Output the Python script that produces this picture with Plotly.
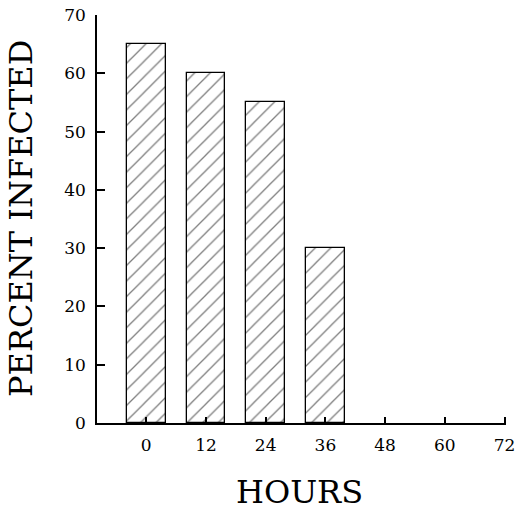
import plotly.graph_objects as go

hours = [0, 12, 24, 36, 48, 60, 72]
percent_infected = [65, 60, 55, 30, 0, 0, 0]
y_ticks = [0, 10, 20, 30, 40, 50, 60, 70]

FONT = "DejaVu Serif"

fig = go.Figure()
fig.add_trace(go.Bar(
    x=hours,
    y=percent_infected,
    width=7.8,
    marker=dict(
        color="white",
        line=dict(color="black", width=[1.3 if v > 0 else 0 for v in percent_infected]),
        pattern=dict(shape="/", size=11, solidity=0.12,
                     fgcolor="black", bgcolor="white", fillmode="overlay"),
    ),
    showlegend=False,
))

fig.update_layout(
    width=517, height=510,
    margin=dict(l=97, r=11, t=15, b=87, autoexpand=False),
    paper_bgcolor="white", plot_bgcolor="white",
    font=dict(family=FONT, color="black", size=17),
    bargap=0,
    annotations=[
        dict(text="PERCENT INFECTED", xref="paper", yref="paper", x=0, y=0.5,
             xanchor="center", yanchor="middle", xshift=-76, textangle=-90,
             showarrow=False, font=dict(family=FONT, size=32)),
        dict(text="HOURS", xref="paper", yref="paper", x=0.494, y=0,
             xanchor="center", yanchor="middle", yshift=-69,
             showarrow=False, font=dict(family=FONT, size=32)),
    ],
)
fig.update_xaxes(
    range=[-9.9, 72.3], automargin=False,
    tickmode="array", tickvals=hours, ticktext=[str(h) for h in hours],
    ticks="inside", ticklen=6, tickwidth=1.5, tickcolor="black",
    showline=True, linecolor="black", linewidth=1.5,
    showgrid=False, zeroline=False,
    ticklabelstandoff=6,
)
fig.update_yaxes(
    range=[0, 70], automargin=False,
    tickmode="array", tickvals=y_ticks,
    ticks="inside", ticklen=8, tickwidth=1.5, tickcolor="black",
    showline=True, linecolor="black", linewidth=1.5,
    showgrid=False, zeroline=False,
    ticklabelstandoff=6,
)

fig.write_html("out.html",
               config={"displayModeBar": False},
               post_script="document.body.style.margin='0px';document.body.style.padding='0px';")
